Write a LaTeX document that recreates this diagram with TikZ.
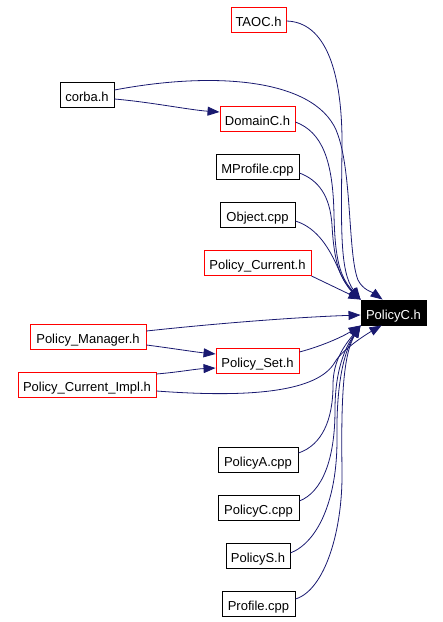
\documentclass[tikz,border=0pt]{standalone}
\usepackage{fontspec}
\setmainfont{Liberation Sans}
\usetikzlibrary{arrows.meta}
\definecolor{edgeblue}{HTML}{191970}
\begin{document}
\begin{tikzpicture}[x=1pt,y=-1pt,
  filebox/.style={draw=black,line width=0.9pt,minimum height=25pt,inner sep=0pt,text height=13pt,text depth=0pt,font=\fontsize{13}{15}\selectfont},
  redbox/.style={filebox,draw=red},
  curbox/.style={filebox,fill=black,text=white},
  dep/.style={draw=edgeblue,line width=0.8pt,-{Triangle[length=12pt,width=9pt]}}]
\useasboundingbox (0,0) rectangle (443,622);
\node[redbox,minimum width=55pt] (taoc) at (258.5,19.5) {TAOC.h};
\node[filebox,minimum width=54pt] (corba) at (87,94.5) {corba.h};
\node[redbox,minimum width=75pt] (domain) at (257.5,118.5) {DomainC.h};
\node[filebox,minimum width=83pt] (mprof) at (257.5,166.5) {MProfile.cpp};
\node[filebox,minimum width=75pt] (object) at (257.5,214.5) {Object.cpp};
\node[redbox,minimum width=107pt] (pcur) at (257.5,263) {Policy\_Current.h};
\node[curbox,minimum width=65pt] (pc) at (393.5,312.5) {PolicyC.h};
\node[redbox,minimum width=116pt] (pman) at (88,337) {Policy\_Manager.h};
\node[redbox,minimum width=83pt] (pset) at (257.5,361) {Policy\_Set.h};
\node[redbox,minimum width=138pt] (pci) at (87,385) {Policy\_Current\_Impl.h};
\node[filebox,minimum width=80pt] (pa) at (258,459.5) {PolicyA.cpp};
\node[filebox,minimum width=81pt] (pcc) at (258.5,507.5) {PolicyC.cpp};
\node[filebox,minimum width=64pt] (ps) at (258,555.5) {PolicyS.h};
\node[filebox,minimum width=73pt] (prof) at (258.5,603.5) {Profile.cpp};
% edges into PolicyC.h
\draw[dep] ([yshift=-1.5pt]taoc.east) .. controls (325,22) and (343,70) .. (342,150) .. controls (341,230) and (340,272) .. (pc.north west);
\draw[dep] ([yshift=4.5pt]corba.east) .. controls (220,70) and (320,80) .. (338,135) .. controls (352,175) and (348,255) .. (358,280) .. controls (363,290) and (372,292) .. ([xshift=22pt]pc.north west);
\draw[dep] ([yshift=-4.5pt]corba.east) .. controls (150,102) and (190,110) .. ([yshift=6.5pt]domain.west);
\draw[dep] ([yshift=-3.5pt]domain.east) .. controls (322,132) and (333,160) .. (334,215) .. controls (335,260) and (340,277) .. (pc.north west);
\draw[dep] ([yshift=-6.5pt]mprof.east) .. controls (318,180) and (330,195) .. (332,225) .. controls (334,262) and (340,279) .. (pc.north west);
\draw[dep] ([yshift=-6.5pt]object.east) .. controls (318,228) and (330,250) .. (338,268) .. controls (344,282) and (350,290) .. (pc.north west);
\draw[dep] (pcur.south east) -- (pc.north west);
\draw[dep] ([yshift=6pt]pman.east) .. controls (220,323) and (300,317) .. ([yshift=-2.5pt]pc.west);
\draw[dep] ([yshift=-8pt]pman.east) .. controls (170,348) and (195,352) .. ([yshift=7pt]pset.west);
\draw[dep] ([yshift=11pt]pci.east) .. controls (180,372) and (195,369) .. ([yshift=-7pt]pset.west);
\draw[dep] ([yshift=9pt]pset.east) .. controls (322,346) and (342,337) .. (pc.south west);
\draw[dep] ([yshift=-6pt]pci.east) .. controls (250,398) and (318,392) .. (335,362) .. controls (342,350) and (365,335) .. ([xshift=21pt]pc.south west);
\draw[dep] ([yshift=6.5pt]pa.east) .. controls (322,445) and (333,420) .. (333,385) .. controls (333,360) and (345,345) .. (pc.south west);
\draw[dep] ([yshift=6.5pt]pcc.east) .. controls (322,492) and (335,460) .. (335,410) .. controls (335,370) and (345,348) .. (pc.south west);
\draw[dep] ([yshift=2.5pt]ps.east) .. controls (318,542) and (337,500) .. (337,440) .. controls (336,380) and (345,350) .. (pc.south west);
\draw[dep] ([yshift=4.5pt]prof.east) .. controls (325,590) and (343,530) .. (342,470) .. controls (341,400) and (343,355) .. (pc.south west);
\end{tikzpicture}
\end{document}
